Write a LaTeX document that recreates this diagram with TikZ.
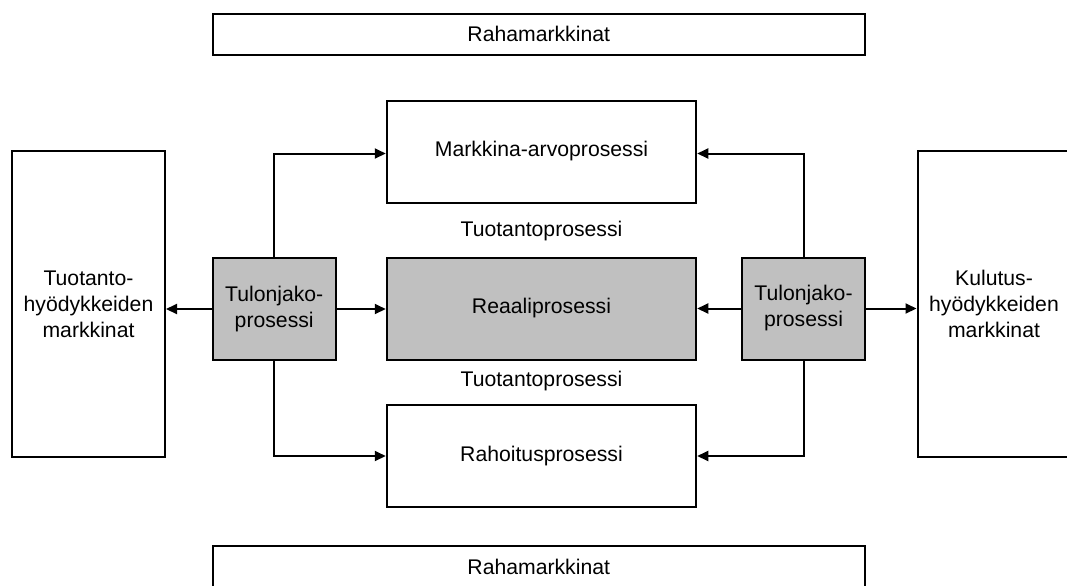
\documentclass[tikz,border=0pt]{standalone}
\usepackage{fontspec}
\setmainfont{Liberation Sans}
\usetikzlibrary{arrows.meta}
\definecolor{boxgrey}{RGB}{192,192,192}
\begin{document}
\begin{tikzpicture}[x=0.5pt,y=-0.5pt,
  every node/.style={font=\fontsize{10.6pt}{13pt}\selectfont, align=center, inner sep=0pt},
  box/.style={draw=black, line width=1pt, fill=white},
  greybox/.style={draw=black, line width=1pt, fill=boxgrey},
  conn/.style={line width=1pt, -{Triangle[length=5.5pt,width=5pt]}},
  lbl/.style={}]
\useasboundingbox (0,0) rectangle (1067,585);
\clip (0,0) rectangle (1067,585);
\fill[white] (0,0) rectangle (1067,585);
\node[box, minimum width=326.25pt, minimum height=20.75pt] (rtop) at (538.75,34.25) {Rahamarkkinat};
\node[box, minimum width=154.75pt, minimum height=51pt] (markk) at (541.5,151.5) {Markkina-arvoprosessi};
\node[lbl] (tp1) at (541.5,231) {Tuotantoprosessi};
\node[box, minimum width=76.5pt, minimum height=152.75pt] (lout) at (88.5,304) {Tuotanto-\\hyödykkeiden\\markkinat};
\node[box, minimum width=76.5pt, minimum height=152.75pt] (rout) at (994,304) {Kulutus-\\hyödykkeiden\\markkinat};
\node[greybox, minimum width=61.5pt, minimum height=51pt] (lg) at (274.2,309) {Tulonjako-\\prosessi};
\node[greybox, minimum width=154.75pt, minimum height=51pt] (reaali) at (541.5,308.5) {Reaaliprosessi};
\node[greybox, minimum width=61.5pt, minimum height=51pt] (rg) at (803.5,308.5) {Tulonjako-\\prosessi};
\node[lbl] (tp2) at (541.5,381.5) {Tuotantoprosessi};
\node[box, minimum width=154.75pt, minimum height=51pt] (rahoitus) at (541.5,456) {Rahoitusprosessi};
\node[box, minimum width=326.25pt, minimum height=20.75pt] (rbot) at (538.75,566.75) {Rahamarkkinat};
\draw[conn] (lg.west) -- (lout.east |- lg.west);
\draw[conn] (lg.east) -- (reaali.west |- lg.east);
\draw[conn] (rg.west) -- (reaali.east |- rg.west);
\draw[conn] (rg.east) -- (rout.west |- rg.east);
\draw[conn] (lg.north) |- ([yshift=-1pt]markk.west);
\draw[conn] (rg.north) |- ([yshift=-1pt]markk.east);
\draw[conn] (lg.south) |- (rahoitus.west);
\draw[conn] (rg.south) |- (rahoitus.east);
\end{tikzpicture}
\end{document}
